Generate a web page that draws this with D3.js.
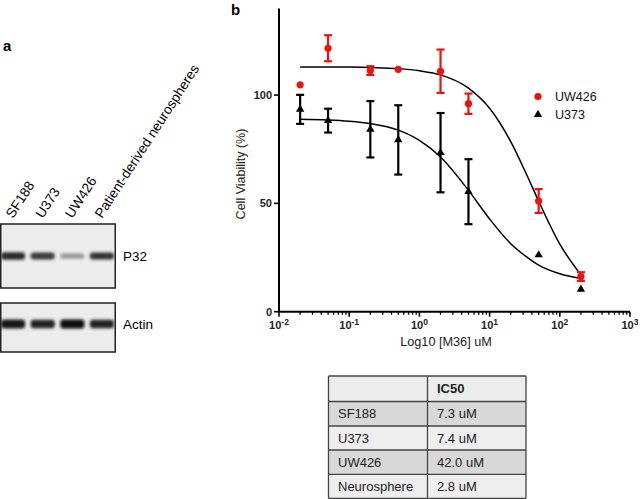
<!DOCTYPE html>
<html>
<head>
<meta charset="utf-8">
<script src="https://cdn.jsdelivr.net/npm/d3@7"></script>
<style>
  html, body { margin: 0; padding: 0; background: #fff; }
  svg { display: block; font-family: "Liberation Sans", Arial, sans-serif; }
</style>
</head>
<body>
<svg id="chart" width="640" height="499"></svg>
<script>
// ---------------- DATA ----------------
// Panel a: western blot
const lanes = ["SF188", "U373", "UW426", "Patient-derived neurospheres"];
const p32Intensity = [0.85, 0.78, 0.35, 0.82];
const actinIntensity = [0.95, 0.9, 1.0, 0.9];
const blotRows = ["P32", "Actin"];

// Panel b: dose-response
const doses = [0.02, 0.05, 0.2, 0.5, 2, 5, 50, 200];
const uw426Mean = [104.7, 121.6, 111.3, 111.9, 111, 96, 51.1, 16.2];
const uw426Err = [0, 6, 2, 0, 10, 4.7, 5.5, 2];
const u373Mean = [93.4, 88.2, 84.2, 79.3, 73.4, 55.4, 26.2, 10.3];
const u373Err = [6.7, 5.5, 13, 16, 18.3, 15, 0, 0];

// Fitted curves
const fitDoses = [0.02, 0.05, 0.1, 0.2, 0.5, 1, 2, 5, 10, 20, 34, 50, 100, 200];
const uw426Fit = [113, 112.9, 112.9, 112.7, 112.2, 111.2, 109.3, 103.2, 93.9, 78.5, 63, 51, 31.2, 17];
const u373Fit = [88.8, 88.5, 87.9, 86.8, 83.8, 79.1, 71.4, 56, 42.8, 31.4, 25.2, 21.5, 17.5, 15.3];

const xTickValues = [0.01, 0.1, 1, 10, 100, 1000];
const xTickExps = ["-2", "-1", "0", "1", "2", "3"];
const yTickValues = [0, 50, 100];

// IC50 table
const tableHeader = ["", "IC50"];
const tableCells = ["SF188", "U373", "UW426", "Neurosphere"];
const tableIC50 = ["7.3 uM", "7.4 uM", "42.0 uM", "2.8 uM"];

// ---------------- DRAW ----------------
const svg = d3.select("#chart");
const defs = svg.append("defs");
defs.append("filter").attr("id", "blur").attr("x", "-30%").attr("y", "-100%").attr("width", "160%").attr("height", "300%")
  .append("feGaussianBlur").attr("stdDeviation", "1.7 1.5");

// ---- Panel a ----
svg.append("text").attr("x", 3).attr("y", 51).attr("font-size", 15).attr("font-weight", "bold").text("a");

const laneX = d3.scaleBand().domain(lanes).range([0, 115]).paddingInner(0.12).paddingOuter(0.0);
const boxes = [
  { name: "P32", y0: 224, y1: 288, bandY: 256, vals: p32Intensity, h: 6.5 },
  { name: "Actin", y0: 303, y1: 352, bandY: 324, vals: actinIntensity, h: 7.5 }
];
const grey = d3.scaleLinear().domain([0, 1]).range(["#e6e6e6", "#0a0a0a"]);
boxes.forEach(b => {
  svg.append("rect").attr("x", 0.75).attr("y", b.y0).attr("width", 114.5).attr("height", b.y1 - b.y0)
    .attr("fill", "#ececec").attr("stroke", "#222").attr("stroke-width", 1.5);
  const g = svg.append("g").attr("filter", "url(#blur)");
  lanes.forEach((l, i) => {
    const v = b.vals[i];
    const hh = b.h * (0.7 + 0.5 * v);
    g.append("rect")
      .attr("x", laneX(l) + 1).attr("y", b.bandY - hh / 2)
      .attr("width", laneX.bandwidth() - 2).attr("height", hh)
      .attr("rx", 3).attr("fill", grey(v));
  });
  svg.append("text").attr("x", 123).attr("y", b.bandY + 4.5).attr("font-size", 13.5).text(b.name);
});
// lane labels (rotated)
lanes.forEach((l, i) => {
  const x0 = laneX(l) + 13;
  svg.append("text").attr("transform", `translate(${x0},219) rotate(-57)`)
    .attr("font-size", 13.7).text(l);
});

// ---- Panel b ----
svg.append("text").attr("x", 231).attr("y", 15).attr("font-size", 15).attr("font-weight", "bold").text("b");

const x = d3.scaleLog().domain([0.01, 1000]).range([279, 630]);
const y = d3.scaleLinear().domain([0, 140]).range([311.7, 8.4]);

// axes
const axG = svg.append("g");
axG.append("line").attr("x1", x(0.01)).attr("x2", x(1000)).attr("y1", y(0)).attr("y2", y(0))
  .attr("stroke", "#000").attr("stroke-width", 2);
axG.append("line").attr("x1", x(0.01)).attr("x2", x(0.01)).attr("y1", y(0)).attr("y2", y(140))
  .attr("stroke", "#000").attr("stroke-width", 2);

// x minor ticks
const minor = [];
for (let e = -2; e < 3; e++) for (let m = 2; m <= 9; m++) minor.push(m * Math.pow(10, e));
axG.selectAll(".minor").data(minor).join("line")
  .attr("x1", d => x(d)).attr("x2", d => x(d)).attr("y1", y(0)).attr("y2", y(0) + 3)
  .attr("stroke", "#000").attr("stroke-width", 1.3);
axG.selectAll(".major").data(xTickValues).join("line")
  .attr("x1", d => x(d)).attr("x2", d => x(d)).attr("y1", y(0)).attr("y2", y(0) + 5)
  .attr("stroke", "#000").attr("stroke-width", 1.6);
const xl = axG.selectAll(".xl").data(xTickValues).join("text")
  .attr("x", d => x(d)).attr("y", y(0) + 17).attr("text-anchor", "middle")
  .attr("font-size", 11).attr("font-weight", "bold").attr("fill", "#222");
xl.append("tspan").text("10");
xl.append("tspan").attr("dy", -4).attr("font-size", 8.5).text((d, i) => xTickExps[i]);

// y ticks
axG.selectAll(".yt").data(yTickValues).join("line")
  .attr("x1", x(0.01) - 5).attr("x2", x(0.01)).attr("y1", d => y(d)).attr("y2", d => y(d))
  .attr("stroke", "#000").attr("stroke-width", 1.6);
axG.selectAll(".yl").data(yTickValues).join("text")
  .attr("x", x(0.01) - 7).attr("y", d => y(d) + 4).attr("text-anchor", "end")
  .attr("font-size", 11).attr("font-weight", "bold").attr("fill", "#222").text(d => d);

// titles
svg.append("text").attr("transform", `translate(245,174) rotate(-90)`).attr("text-anchor", "middle")
  .attr("font-size", 12.5).attr("fill", "#222").text("Cell Viability (%)");
svg.append("text").attr("x", 446).attr("y", 346).attr("text-anchor", "middle")
  .attr("font-size", 12.7).attr("fill", "#222").text("Log10 [M36] uM");

// fitted curves
const line = d3.line().x(d => x(d[0])).y(d => y(d[1])).curve(d3.curveMonotoneX);
svg.append("path").datum(fitDoses.map((d, i) => [d, uw426Fit[i]])).attr("d", line)
  .attr("fill", "none").attr("stroke", "#000").attr("stroke-width", 1.5);
svg.append("path").datum(fitDoses.map((d, i) => [d, u373Fit[i]])).attr("d", line)
  .attr("fill", "none").attr("stroke", "#000").attr("stroke-width", 1.5);

function errorBars(means, errs, color) {
  const g = svg.append("g").attr("stroke", color).attr("stroke-width", 2.2);
  doses.forEach((d, i) => {
    if (!errs[i]) return;
    const cx = x(d), yt = y(means[i] + errs[i]), yb = y(means[i] - errs[i]);
    g.append("line").attr("x1", cx).attr("x2", cx).attr("y1", yt).attr("y2", yb);
    g.append("line").attr("x1", cx - 4).attr("x2", cx + 4).attr("y1", yt).attr("y2", yt);
    g.append("line").attr("x1", cx - 4).attr("x2", cx + 4).attr("y1", yb).attr("y2", yb);
  });
}
errorBars(uw426Mean, uw426Err, "#f01010");
errorBars(u373Mean, u373Err, "#000");

const tri = d3.symbol().type(d3.symbolTriangle).size(30);
svg.append("g").selectAll("circle").data(doses).join("circle")
  .attr("cx", d => x(d)).attr("cy", (d, i) => y(uw426Mean[i])).attr("r", 3.6).attr("fill", "#f01010");
svg.append("g").selectAll("path").data(doses).join("path")
  .attr("d", tri).attr("transform", (d, i) => `translate(${x(d)},${y(u373Mean[i])})`).attr("fill", "#000");

// legend
svg.append("circle").attr("cx", 538).attr("cy", 96.5).attr("r", 3.6).attr("fill", "#f01010");
svg.append("path").attr("d", tri).attr("transform", "translate(538,114.5)").attr("fill", "#000");
svg.append("text").attr("x", 555).attr("y", 101).attr("font-size", 12.5).attr("fill", "#111").text("UW426");
svg.append("text").attr("x", 555).attr("y", 119).attr("font-size", 12.5).attr("fill", "#111").text("U373");

// ---- Table ----
const tx0 = 328.5, tx1 = 526, tcol = 427.5;
const rowEdges = [376, 401.5, 426, 450, 474.3, 498.3];
const rowFills = ["#ececec", "#d8d8d8", "#eeeeee", "#d8d8d8", "#eeeeee"];
const rows = [tableHeader].concat(tableCells.map((c, i) => [c, tableIC50[i]]));
const tg = svg.append("g");
rows.forEach((r, i) => {
  tg.append("rect").attr("x", tx0).attr("y", rowEdges[i]).attr("width", tx1 - tx0)
    .attr("height", rowEdges[i + 1] - rowEdges[i]).attr("fill", rowFills[i]);
});
rows.forEach((r, i) => {
  const cy = (rowEdges[i] + rowEdges[i + 1]) / 2 + 4.5;
  tg.append("text").attr("x", 338).attr("y", cy).attr("font-size", 13).attr("fill", "#222").text(r[0]);
  tg.append("text").attr("x", 437).attr("y", cy).attr("font-size", 13).attr("fill", "#222")
    .attr("font-weight", i === 0 ? "bold" : "normal").text(r[1]);
});
rowEdges.forEach(e => tg.append("line").attr("x1", tx0).attr("x2", tx1).attr("y1", e).attr("y2", e)
  .attr("stroke", "#444").attr("stroke-width", 1.3));
[tx0, tcol, tx1].forEach(xx => tg.append("line").attr("x1", xx).attr("x2", xx)
  .attr("y1", rowEdges[0]).attr("y2", rowEdges[5]).attr("stroke", "#444").attr("stroke-width", 1.3));
</script>
</body>
</html>
